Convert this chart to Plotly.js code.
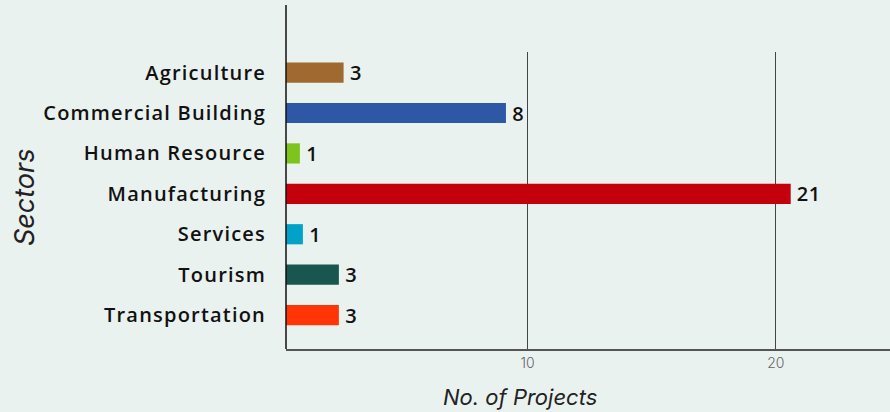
<!DOCTYPE html>
<html>
<head>
<meta charset="utf-8">
<script src="https://cdn.plot.ly/plotly-3.0.1.min.js"></script>
<style>
html,body{margin:0;padding:0;background:#eaf2f0;}
#chart{width:890px;height:412px;}
#chart .ytick text{letter-spacing:1.2px;}
#chart .bartext{letter-spacing:0.5px;}
</style>
</head>
<body>
<div id="chart"></div>
<script>
// Data
var sectors = ["Agriculture", "Commercial Building", "Human Resource", "Manufacturing", "Services", "Tourism", "Transportation"];
var barLengths = [2.32, 8.86, 0.56, 20.33, 0.68, 2.13, 2.13];   // drawn bar lengths, measured from the axis line
var projectLabels = ["3", "8", "1", "21", "1", "3", "3"];        // printed values
var barColors = ["#a0692f", "#2e57a5", "#7ec41d", "#c3000b", "#00a3c7", "#1a5650", "#ff3507"];
var tickValues = [10, 20];
var tickLabels = ["10", "20"];

var FONT = "'Open Sans', sans-serif";
var TFONT = "Inter, 'Open Sans', sans-serif";

var trace = {
  type: "bar",
  orientation: "h",
  y: sectors,
  x: barLengths,
  base: 0.27,
  width: 0.5,
  marker: {color: barColors, line: {width: 0}},
  text: projectLabels.map(function(t){ return "\u2009" + t; }),
  textposition: "outside",
  constraintext: "none",
  cliponaxis: false,
  textfont: {family: FONT, size: 20, color: "#111111", weight: 600},
  hoverinfo: "none"
};

var layout = {
  width: 890,
  height: 412,
  paper_bgcolor: "#eaf2f0",
  plot_bgcolor: "#eaf2f0",
  margin: {l: 286, r: 0, t: 52, b: 63, pad: 0},
  showlegend: false,
  font: {family: FONT},
  xaxis: {
    range: [0.27, 24.6],
    tickvals: tickValues,
    ticktext: tickLabels,
    showgrid: true,
    gridcolor: "#444444",
    gridwidth: 1,
    zeroline: false,
    showline: true,
    linecolor: "#555555",
    linewidth: 1.5,
    ticks: "",
    ticklabelstandoff: 1,
    tickfont: {family: TFONT, size: 14, color: "#666666", weight: 300},
    fixedrange: true
  },
  yaxis: {
    type: "category",
    range: [6.84, -0.51],
    showgrid: false,
    zeroline: false,
    showline: false,
    ticks: "",
    ticklabelstandoff: 19,
    tickfont: {family: FONT, size: 20, color: "#111111", weight: 600},
    fixedrange: true
  },
  shapes: [
    {type: "line", xref: "paper", yref: "paper", x0: 0, x1: 0, y0: 0, y1: 1.158,
     line: {color: "#111111", width: 1.5}}
  ],
  annotations: [
    {text: "No. of Projects", xref: "paper", yref: "paper", x: 0.387, y: -0.16,
     xanchor: "center", yanchor: "middle", showarrow: false,
     font: {family: TFONT, size: 22, color: "#222222", style: "italic", weight: 400}},
    {text: "Sectors", xref: "paper", yref: "paper", x: -0.432, y: 0.512,
     xanchor: "center", yanchor: "middle", showarrow: false, textangle: -90,
     font: {family: TFONT, size: 27, color: "#222222", style: "italic", weight: 400}}
  ]
};

Plotly.newPlot("chart", [trace], layout, {displayModeBar: false, staticPlot: true});
</script>
</body>
</html>
